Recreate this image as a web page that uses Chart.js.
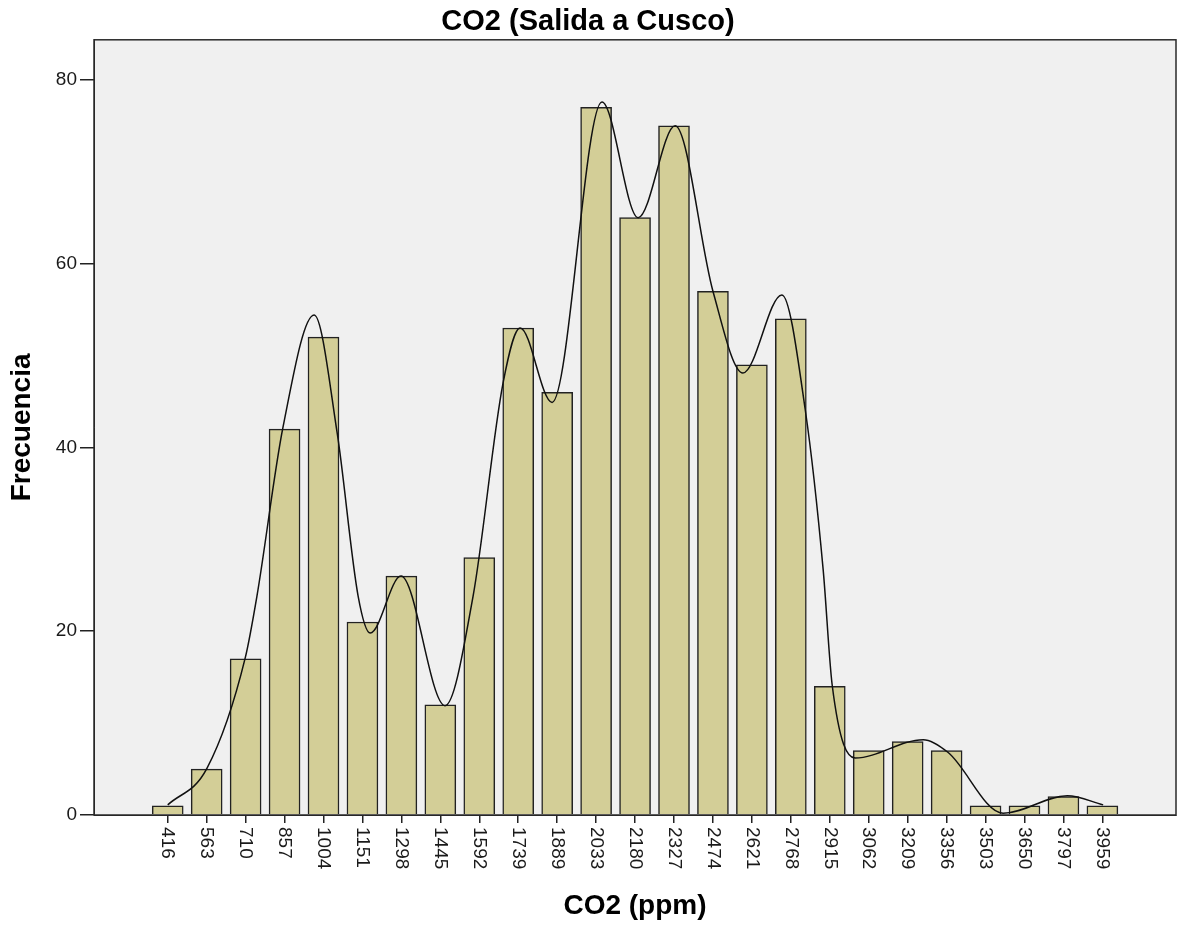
<!DOCTYPE html>
<html>
<head>
<meta charset="utf-8">
<title>CO2 (Salida a Cusco)</title>
<script src="https://cdn.jsdelivr.net/npm/chart.js@4.4.1/dist/chart.umd.min.js"></script>
<style>
  body { margin: 0; background: #fff; }
  canvas { display: block; }
</style>
</head>
<body>
<canvas id="histo" width="1182" height="925"></canvas>
<script>
// Klassen (Beschriftung der x-Achse) und Häufigkeiten
const categories = ["416", "563", "710", "857", "1004", "1151", "1298", "1445", "1592", "1739",
  "1889", "2033", "2180", "2327", "2474", "2621", "2768", "2915", "3062", "3209",
  "3356", "3503", "3650", "3797", "3959"];
const frequencies = [1, 5, 17, 42, 52, 21, 26, 12, 28, 53,
  46, 77, 65, 75, 57, 49, 54, 14, 7, 8,
  7, 1, 1, 2, 1];

// Kurve, x in Klassen-Index
const curveX = [0, 1.01, 1.99, 2.29, 2.96, 3.76, 4.35, 4.89, 5.2, 5.99,
  7.12, 7.84, 8.61, 9.05, 9.87, 11.15, 12.08, 13.03, 14.0, 14.77,
  15.77, 16.37, 16.83, 17.06, 17.65, 19.4, 20.04, 21.45, 23.1, 24.02];
const curveY = [1.1, 5.1, 17.1, 23.8, 42.2, 54.4, 41.6, 23.8, 19.8, 26,
  11.9, 23.8, 47, 53, 44.9, 77.6, 65, 75, 57, 48.1,
  56.6, 44.1, 26.7, 14.2, 6.2, 8.2, 6.8, 0.2, 2.1, 1.1];

const yTicks = [0, 20, 40, 60, 80];

const fontFam = "'Liberation Sans', Arial, sans-serif";

// Hintergrund und Rahmen des Plotbereichs
const plotFrame = {
  id: 'plotFrame',
  beforeDraw(chart) {
    const { ctx, chartArea: a } = chart;
    ctx.save();
    ctx.fillStyle = '#fff';
    ctx.fillRect(0, 0, chart.width, chart.height);
    ctx.fillStyle = '#f0f0f0';
    ctx.fillRect(a.left, a.top, a.right - a.left, a.bottom - a.top);
    ctx.restore();
  },
  afterDatasetsDraw(chart) {
    const { ctx, chartArea: a } = chart;
    ctx.save();
    ctx.strokeStyle = '#2a2a2a';
    ctx.lineWidth = 1.5;
    ctx.strokeRect(a.left, a.top, a.right - a.left, a.bottom - a.top);
    ctx.restore();
  }
};

// x-Beschriftungen um 90° im Uhrzeigersinn gedreht
const rotatedLabels = {
  id: 'rotatedLabels',
  afterDraw(chart) {
    const { ctx } = chart;
    const xs = chart.scales.x;
    ctx.save();
    ctx.fillStyle = '#1a1a1a';
    ctx.font = '19px ' + fontFam;
    ctx.textAlign = 'left';
    ctx.textBaseline = 'middle';
    categories.forEach((lab, i) => {
      ctx.save();
      ctx.translate(xs.getPixelForValue(i), xs.top + 12);
      ctx.rotate(Math.PI / 2);
      ctx.fillText(lab, 0, 0);
      ctx.restore();
    });
    ctx.restore();
  }
};

new Chart(document.getElementById('histo'), {
  type: 'bar',
  data: {
    datasets: [{
      type: 'line',
      order: 0,
      data: curveX.map((x, i) => ({ x: x, y: curveY[i] })),
      borderColor: '#111',
      borderWidth: 1.5,
      pointRadius: 0,
      fill: false,
      cubicInterpolationMode: 'monotone'
    }, {
      type: 'bar',
      order: 1,
      data: frequencies.map((v, i) => ({ x: i, y: v })),
      backgroundColor: '#d3ce97',
      borderColor: '#222',
      borderWidth: 1.5,
      barThickness: 31
    }]
  },
  options: {
    responsive: false,
    animation: false,
    layout: { padding: { left: 0, right: 6, top: 0, bottom: 0 } },
    plugins: {
      legend: { display: false },
      tooltip: { enabled: false },
      title: {
        display: true,
        text: 'CO2 (Salida a Cusco)',
        color: '#000',
        font: { family: fontFam, size: 29, weight: 'bold', lineHeight: 1.2 },
        padding: { top: 5, bottom: 0 }
      }
    },
    scales: {
      x: {
        type: 'linear',
        min: -1.893,
        max: 25.89,
        offset: false,
        afterBuildTicks: (axis) => { axis.ticks = categories.map((c, i) => ({ value: i })); },
        afterFit: (s) => { s.height = 110; },
        ticks: { display: false },
        grid: { offset: false, drawOnChartArea: false, drawTicks: true, tickLength: 8, color: '#222', lineWidth: 1.5 },
        border: { color: '#222' },
        title: {
          display: true,
          text: 'CO2 (ppm)',
          color: '#000',
          font: { family: fontFam, size: 28, weight: 'bold', lineHeight: 1.2 },
          padding: { top: 0, bottom: 2 }
        }
      },
      y: {
        min: 0,
        max: 84.36,
        afterBuildTicks: (axis) => { axis.ticks = yTicks.map(v => ({ value: v })); },
        afterFit: (s) => { s.width = 94; },
        ticks: { color: '#1a1a1a', padding: 3, font: { family: fontFam, size: 19 } },
        grid: { drawOnChartArea: false, drawTicks: true, tickLength: 14, color: '#222', lineWidth: 1.5 },
        border: { color: '#222' },
        title: {
          display: true,
          text: 'Frecuencia',
          color: '#000',
          font: { family: fontFam, size: 28, weight: 'bold', lineHeight: 1.2 },
          padding: { top: 5, bottom: 0 }
        }
      }
    }
  },
  plugins: [plotFrame, rotatedLabels]
});
</script>
</body>
</html>
